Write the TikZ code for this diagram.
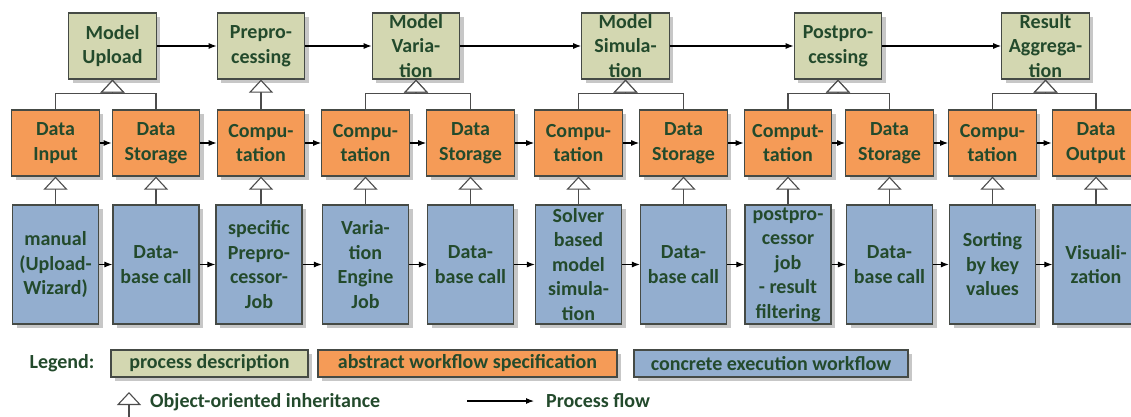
\documentclass[tikz,border=0pt]{standalone}
\usepackage{fontspec}
\setmainfont{Carlito}
\usetikzlibrary{arrows.meta,shadows}
\definecolor{gfill}{HTML}{D3D7B1}
\definecolor{ofill}{HTML}{F59B57}
\definecolor{bfill}{HTML}{93AECF}
\definecolor{txt}{HTML}{234A2C}
\definecolor{edge}{HTML}{454A45}
\begin{document}
\begin{tikzpicture}[x=1pt,y=-1pt,
 box/.style={draw=edge, line width=1.2pt, text=txt, font=\fontsize{20}{24.5}\selectfont\bfseries, align=center, inner xsep=2pt, inner ysep=0pt, minimum width=87.5pt, drop shadow={shadow xshift=4pt, shadow yshift=-4pt, opacity=0.22, fill=black}},
 gbox/.style={box, fill=gfill, minimum height=66pt},
 obox/.style={box, fill=ofill, minimum height=66pt},
 bbox/.style={box, fill=bfill, minimum height=119pt, minimum width=86pt},
 flow/.style={draw=black, line width=1.1pt, -{Latex[length=8pt,width=6pt]}},
 inh/.style={draw=black!70, line width=1.1pt, -{Triangle[length=13pt,width=24pt,fill=white]}},
 lbl/.style={text=txt, font=\fontsize{20}{24}\selectfont\bfseries, inner sep=0pt}
]
\fill[white] (0,0) rectangle (1131,416);
\useasboundingbox (0,0) rectangle (1131,416);

% process descriptions
\node[gbox] (G1) at (112.5,46) {Model\\Upload};
\node[gbox] (G2) at (261,46) {Prepro-\\cessing};
\node[gbox] (G3) at (416,46) {Model\\Varia-\\tion};
\node[gbox] (G4) at (625.5,46) {Model\\Simula-\\tion};
\node[gbox] (G5) at (838,46) {Postpro-\\cessing};
\node[gbox] (G6) at (1045.5,46) {Result\\Aggrega-\\tion};

% abstract workflow
\node[obox] (O1) at (55.5,143) {Data\\Input};
\node[obox] (O2) at (156,143) {Data\\Storage};
\node[obox] (O3) at (261,143) {Compu-\\tation};
\node[obox] (O4) at (365.5,143) {Compu-\\tation};
\node[obox] (O5) at (470.5,143) {Data\\Storage};
\node[obox] (O6) at (578.5,143) {Compu-\\tation};
\node[obox] (O7) at (683.5,143) {Data\\Storage};
\node[obox] (O8) at (788,143) {Comput-\\tation};
\node[obox] (O9) at (889.5,143) {Data\\Storage};
\node[obox] (O10) at (992.5,143) {Compu-\\tation};
\node[obox] (O11) at (1096,143) {Data\\Output};

% concrete workflow
\node[bbox] (B1) at (55.5,264.5) {manual\\(Upload-\\Wizard)};
\node[bbox] (B2) at (156,264.5) {Data-\\base call};
\node[bbox] (B3) at (259,264.5) {specific\\Prepro-\\cessor-\\Job};
\node[bbox] (B4) at (365.5,264.5) {Varia-\\tion\\Engine\\Job};
\node[bbox] (B5) at (470.5,264.5) {Data-\\base call};
\node[bbox] (B6) at (578.5,264.5) {Solver\\based\\model\\simula-\\tion};
\node[bbox] (B7) at (683.5,264.5) {Data-\\base call};
\node[bbox] (B8) at (788,264.5) {postpro-\\cessor\\job\\- result\\filtering};
\node[bbox] (B9) at (889.5,264.5) {Data-\\base call};
\node[bbox] (B10) at (992.5,264.5) {Sorting\\by key\\values};
\node[bbox] (B11) at (1096,264.5) {Visuali-\\zation};

% process flow
\foreach \a/\b in {G1/G2,G2/G3,G3/G4,G4/G5,G5/G6}
  \draw[flow] (\a) -- (\b);
\foreach \i [evaluate=\i as \j using int(\i+1)] in {1,...,10} {
  \draw[flow] (O\i) -- (O\j);
  \draw[flow] (B\i) -- (B\j);
}

% inheritance concrete -> abstract
\foreach \i in {1,...,11}
  \draw[inh] (B\i.north -| O\i.south) -- (O\i.south);

% inheritance abstract -> process
\draw[inh] (O1.north) |- ([yshift=-14pt]G1.south) -- (G1.south);
\draw[inh] (O2.north) |- ([yshift=-14pt]G1.south) -- (G1.south);
\draw[inh] (O3.north) -- (G2.south);
\draw[inh] (O4.north) |- ([yshift=-14pt]G3.south) -- (G3.south);
\draw[inh] (O5.north) |- ([yshift=-14pt]G3.south) -- (G3.south);
\draw[inh] (O6.north) |- ([yshift=-14pt]G4.south) -- (G4.south);
\draw[inh] (O7.north) |- ([yshift=-14pt]G4.south) -- (G4.south);
\draw[inh] (O8.north) |- ([yshift=-14pt]G5.south) -- (G5.south);
\draw[inh] (O9.north) |- ([yshift=-14pt]G5.south) -- (G5.south);
\draw[inh] (O10.north) |- ([yshift=-14pt]G6.south) -- (G6.south);
\draw[inh] (O11.north) |- ([yshift=-14pt]G6.south) -- (G6.south);

% legend
\node[lbl] (leg) at (62,363.5) {Legend:};
\node[box, fill=gfill, minimum width=197pt, minimum height=27pt] (L1) at (209.5,363.5) {process description};
\node[box, fill=ofill, minimum width=299pt, minimum height=27pt] (L2) at (467.5,363.5) {abstract workflow specification};
\node[box, fill=bfill, minimum width=274pt, minimum height=27pt] (L3) at (771,363.5) {concrete execution workflow};

\coordinate (ia) at (129,422);
\coordinate (ib) at (129,392);
\draw[inh] (ia) -- (ib);
\node[lbl, anchor=west] (inhtxt) at (150,402) {Object-oriented inheritance};
\coordinate (fa) at (467,401);
\coordinate (fb) at (534,401);
\draw[flow] (fa) -- (fb);
\node[lbl, anchor=west] (flowtxt) at (546,401) {Process flow};
\end{tikzpicture}
\end{document}
